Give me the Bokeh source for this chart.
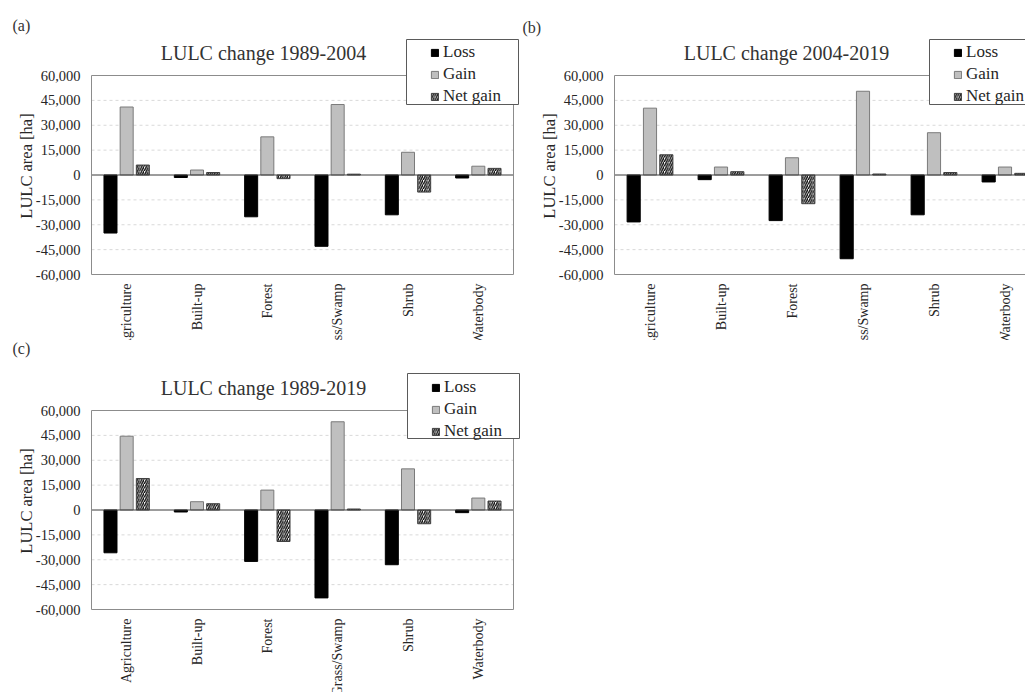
import math
from bokeh.plotting import figure
from bokeh.models import (ColumnDataSource, Range1d, Legend, LegendItem, BoxAnnotation)
from bokeh.core.properties import value
from bokeh.layouts import row, column
from bokeh.transform import dodge
from bokeh.embed import file_html
from bokeh.resources import INLINE

# ---------------- data ----------------
categories = ["Agriculture", "Built-up", "Forest", "Grass/Swamp", "Shrub", "Waterbody"]

loss_a = [-35000, -1500, -25200, -43000, -24000, -1800]
gain_a = [41000, 3000, 23000, 42500, 13700, 5300]
net_a = [6000, 1500, -2200, 500, -10300, 4000]

loss_b = [-28300, -2800, -27500, -50500, -24000, -4200]
gain_b = [40300, 4800, 10400, 50500, 25500, 4800]
net_b = [12200, 2000, -17300, 600, 1500, 1000]

loss_c = [-25800, -1200, -31000, -53000, -33000, -1600]
gain_c = [44500, 5000, 12000, 53200, 24800, 7200]
net_c = [19000, 3800, -19000, 600, -8300, 5400]

titles = ["LULC change 1989-2004", "LULC change 2004-2019", "LULC change 1989-2019"]
tags = ["(a)", "(b)", "(c)"]
series_names = ["Loss", "Gain", "Net gain"]
y_ticks = [-60000, -45000, -30000, -15000, 0, 15000, 30000, 45000, 60000]
y_tick_labels = [f"{t:,}" for t in y_ticks]
y_label = "LULC area [ha]"

FONT = "Liberation Serif"
TXT = "#262626"


def make_panel(loss, gain, net, title, tag, W, H, L, T, cat_px, box_h,
               tag_dx, tag_dy, legend_loc, box_lr, box_tb):
    ymin, ymax = y_ticks[0], y_ticks[-1]
    n = len(categories)
    ppu = box_h / (ymax - ymin)
    y_top = ymax + T / ppu
    y_bot = y_top - H / ppu
    x_start = -0.5 - L / cat_px
    x_end = x_start + W / cat_px

    p = figure(width=W, height=H, output_backend="svg", toolbar_location=None,
               x_range=Range1d(x_start, x_end), y_range=Range1d(y_bot, y_top),
               x_axis_location=None, y_axis_location=None,
               min_border=0, min_border_left=0, min_border_right=0,
               min_border_top=0, min_border_bottom=0,
               background_fill_color="white", border_fill_color="white")
    p.outline_line_color = None
    p.grid.visible = False

    xl, xr = -0.5, n - 0.5

    # grid lines (dashed) at the tick values
    grid_y = [t for t in y_ticks if t not in (0, ymin, ymax)]
    p.segment(x0=[xl] * len(grid_y), x1=[xr] * len(grid_y), y0=grid_y, y1=grid_y,
              line_color="#d9d9d9", line_dash="3 3", line_width=1)

    # bars
    src = ColumnDataSource(dict(x=list(range(n)), cat=categories,
                                loss=loss, gain=gain, net=net))
    w = 0.185
    r_loss = p.vbar(x=dodge("x", -0.23), top="loss", bottom=0, width=w, source=src,
                    fill_color="black", line_color="black")
    r_gain = p.vbar(x=dodge("x", 0.0), top="gain", bottom=0, width=w, source=src,
                    fill_color="#bfbfbf", line_color="#7a7a7a")
    r_net = p.vbar(x=dodge("x", 0.23), top="net", bottom=0, width=w, source=src,
                   fill_color="white", line_color="#404040", hatch_pattern="/",
                   hatch_color="black", hatch_scale=4.5, hatch_weight=1.3)

    # zero line and plot box
    p.segment(x0=[xl], x1=[xr], y0=[0], y1=[0], line_color="#3a3a3a", line_width=1)
    p.quad(left=[xl], right=[xr], bottom=[ymin], top=[ymax], fill_color=None,
           line_color="#8c8c8c", line_width=1)

    # y tick labels
    tsrc = ColumnDataSource(dict(x=[xl] * len(y_ticks), y=y_ticks, t=y_tick_labels))
    p.text(x="x", y="y", text="t", source=tsrc, x_offset=-11, text_align="right",
           text_baseline="middle", text_font=value(FONT), text_font_size="14.5px",
           text_color=TXT)
    # y axis label
    p.text(x=[xl], y=[0], text=[y_label], angle=math.pi / 2, x_offset=-65, y_offset=-9,
           text_align="center", text_baseline="middle", text_font=value(FONT),
           text_font_size="16.5px", text_color=TXT)
    # category labels
    p.text(x="x", y=ymin, text="cat", source=src, angle=math.pi / 2, y_offset=9,
           text_align="right", text_baseline="middle", text_font=value(FONT),
           text_font_size="14px", text_color=TXT)
    # title
    p.text(x=[xl], y=[ymax], text=[title], x_offset=172, y_offset=-23,
           text_align="center", text_baseline="middle", text_font=value(FONT),
           text_font_size="20px", text_color="#333333")
    # panel tag
    p.text(x=[xl], y=[ymax], text=[tag], x_offset=tag_dx, y_offset=tag_dy,
           text_align="left", text_baseline="middle", text_font=value(FONT),
           text_font_size="16px", text_color="#333333")

    # legend frame
    box = BoxAnnotation(left=box_lr[0], right=box_lr[1], top=box_tb[0], bottom=box_tb[1],
                        left_units="screen", right_units="screen",
                        top_units="screen", bottom_units="screen",
                        fill_color="white", fill_alpha=1.0,
                        line_color="#5a5a5a", line_alpha=1.0, line_width=1)
    p.add_layout(box)

    legend = Legend(items=[LegendItem(label=series_names[0], renderers=[r_loss]),
                           LegendItem(label=series_names[1], renderers=[r_gain]),
                           LegendItem(label=series_names[2], renderers=[r_net])],
                    location=legend_loc, orientation="vertical",
                    background_fill_alpha=0, border_line_alpha=0,
                    padding=2, spacing=2, margin=0, label_height=19,
                    glyph_width=9, glyph_height=9, label_standoff=4,
                    label_text_font=FONT, label_text_font_size="17px",
                    label_text_color=TXT)
    p.add_layout(legend)
    return p


pa = make_panel(loss_a, gain_a, net_a, titles[0], tags[0],
                W=520, H=340, L=91, T=75, cat_px=422 / 6, box_h=199,
                tag_dx=-79, tag_dy=-50, legend_loc=(428, 232),
                box_lr=(406, 518), box_tb=(301, 236))
pb = make_panel(loss_b, gain_b, net_b, titles[1], tags[1],
                W=505, H=340, L=94, T=75, cat_px=71, box_h=199,
                tag_dx=-92, tag_dy=-48, legend_loc=(431, 232),
                box_lr=(409, 521), box_tb=(301, 236))
pc = make_panel(loss_c, gain_c, net_c, titles[2], tags[2],
                W=520, H=352, L=91, T=70, cat_px=422 / 6, box_h=199,
                tag_dx=-79, tag_dy=-62, legend_loc=(429, 249),
                box_lr=(407, 519), box_tb=(319, 254))

layout = column(row(pa, pb), pc)
open("out.html", "w").write(file_html(layout, INLINE))
